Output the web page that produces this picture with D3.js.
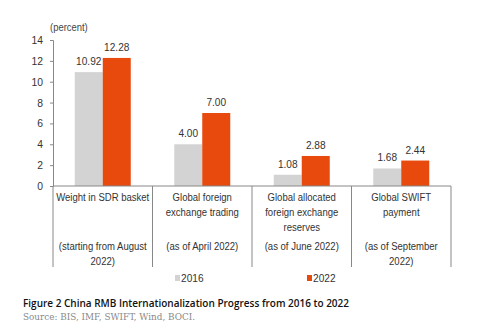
<!DOCTYPE html>
<html>
<head>
<meta charset="utf-8">
<script src="https://cdn.jsdelivr.net/npm/d3@7"></script>
<style>
  body { margin: 0; background: #fff; }
</style>
</head>
<body>
<div id="chart"></div>
<script>
var categories = ["sdr", "fx", "reserves", "swift"];
var categoryLabels = [
    ["Weight in SDR basket"],
    ["Global foreign", "exchange trading"],
    ["Global allocated", "foreign exchange", "reserves"],
    ["Global SWIFT", "payment"]
];
var dateLabels = [
    ["(starting from August", "2022)"],
    ["(as of April 2022)"],
    ["(as of June 2022)"],
    ["(as of September", "2022)"]
];
var series = ["2016", "2022"];
var values2016 = [10.92, 4.00, 1.08, 1.68];
var values2022 = [12.28, 7.00, 2.88, 2.44];
var yTicks = [0, 2, 4, 6, 8, 10, 12, 14];
var colors = ["#d3d3d3", "#e8490d"];

var width = 477, height = 336;
var margin = {top: 40, left: 53, right: 26, bottom: 150};
var plotW = width - margin.left - margin.right,
    plotH = height - margin.top - margin.bottom;

var svg = d3.select("#chart").append("svg")
    .attr("width", width)
    .attr("height", height)
    .style("font-family", "'Liberation Sans', Arial, sans-serif");

// narrow-looking text: Liberation Sans squeezed horizontally
function label(px, py, str, size, sx, anchor) {
    return svg.append("text")
        .attr("transform", "translate(" + px + "," + py + ") scale(" + sx + ",1)")
        .attr("text-anchor", anchor || "middle")
        .style("font-size", size + "px")
        .attr("fill", "#333")
        .text(str);
}

var x = d3.scaleBand()
    .domain(categories)
    .range([margin.left, margin.left + plotW]);

var xInner = d3.scaleBand()
    .domain(series)
    .range([0, 56]);

var y = d3.scaleLinear()
    .domain([0, 14])
    .range([margin.top + plotH, margin.top]);

// y axis
var yAxis = d3.axisLeft(y)
    .tickValues(yTicks)
    .tickSize(3)
    .tickFormat("");
var yg = svg.append("g")
    .attr("transform", "translate(" + margin.left + ",0)")
    .call(yAxis);
yg.select(".domain").attr("stroke", "#888");
yg.selectAll(".tick line").attr("stroke", "#888");
yTicks.forEach(function(t) {
    label(margin.left - 10, y(t) + 4, String(t), 11.5, 0.9, "end");
});

label(margin.left - 3, 31, "(percent)", 10.5, 0.9, "start").attr("fill", "#444");

// bars
var data = categories.map(function(c, i) {
    return {cat: c, vals: [values2016[i], values2022[i]]};
});

var groups = svg.selectAll("g.cat").data(data).enter()
    .append("g")
    .attr("class", "cat")
    .attr("transform", function(d) {
        return "translate(" + (x(d.cat) + x.bandwidth() / 2 - 28) + ",0)";
    });

groups.selectAll("rect").data(function(d) {
        return d.vals.map(function(v, j) {return {s: series[j], v: v, j: j};});
    }).enter()
    .append("rect")
    .attr("x", function(d) {return xInner(d.s);})
    .attr("width", xInner.bandwidth())
    .attr("y", function(d) {return y(d.v);})
    .attr("height", function(d) {return y(0) - y(d.v);})
    .attr("fill", function(d) {return colors[d.j];});

data.forEach(function(d) {
    var gx = x(d.cat) + x.bandwidth() / 2 - 28;
    d.vals.forEach(function(v, j) {
        label(gx + xInner(series[j]) + xInner.bandwidth() / 2, y(v) - 7,
              v.toFixed(2), 11.5, 0.88);
    });
});

// x axis baseline and separators
svg.append("line")
    .attr("x1", margin.left).attr("x2", margin.left + plotW)
    .attr("y1", y(0)).attr("y2", y(0))
    .attr("stroke", "#888");

var seps = categories.map(function(c) {return x(c);}).concat([margin.left + plotW]);
svg.selectAll("line.sep").data(seps).enter()
    .append("line")
    .attr("class", "sep")
    .attr("x1", function(d) {return d;}).attr("x2", function(d) {return d;})
    .attr("y1", y(0)).attr("y2", y(0) + 81)
    .attr("stroke", "#888");

// category labels
categories.forEach(function(c, i) {
    var cx = x(c) + x.bandwidth() / 2;
    categoryLabels[i].forEach(function(line, k) {
        label(cx, y(0) + 15 + k * 15, line, 11.5, 0.83);
    });
    dateLabels[i].forEach(function(line, k) {
        label(cx, y(0) + 64 + k * 15, line, 11.5, 0.83);
    });
});

// legend
var legendX = [175, 307];
series.forEach(function(s, j) {
    svg.append("rect")
        .attr("x", legendX[j]).attr("y", 275)
        .attr("width", 5).attr("height", 6)
        .attr("fill", colors[j]);
    label(legendX[j] + 6, 282, s, 11.5, 0.88, "start");
});

// title and source
svg.append("text")
    .attr("x", 23).attr("y", 307)
    .style("font-family", "'Open Sans', sans-serif")
    .style("font-weight", 600)
    .style("font-size", "11.5px")
    .attr("fill", "#111")
    .attr("textLength", 326)
    .attr("lengthAdjust", "spacingAndGlyphs")
    .text("Figure 2 China RMB Internationalization Progress from 2016 to 2022");

svg.append("text")
    .attr("x", 23).attr("y", 320)
    .style("font-family", "'DejaVu Serif', serif")
    .style("font-size", "8.5px")
    .attr("fill", "#888")
    .attr("textLength", 172)
    .attr("lengthAdjust", "spacingAndGlyphs")
    .text("Source: BIS, IMF, SWIFT, Wind, BOCI.");
</script>
</body>
</html>
